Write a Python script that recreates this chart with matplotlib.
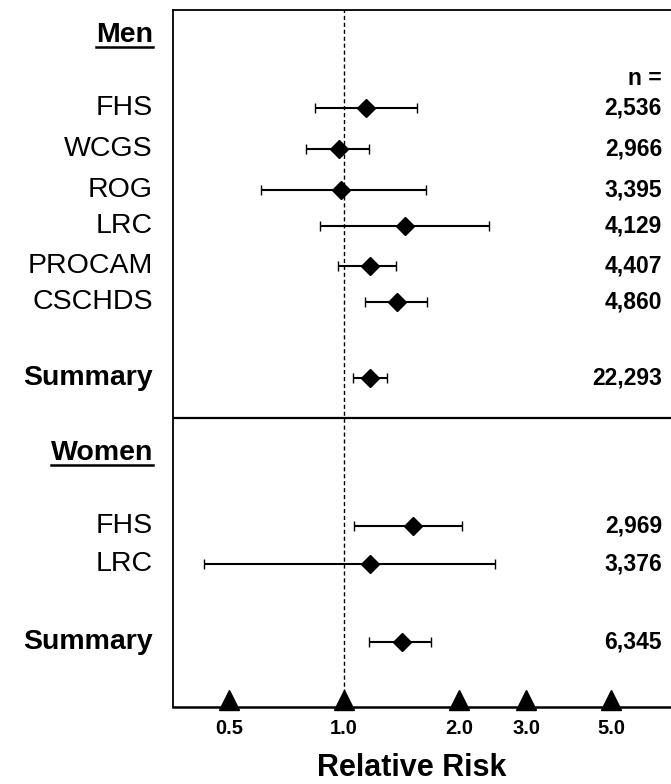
import matplotlib
matplotlib.use("Agg")
import matplotlib.pyplot as plt
from matplotlib.lines import Line2D
from matplotlib.transforms import blended_transform_factory

plt.rcParams['font.family'] = ['Liberation Sans', 'DejaVu Sans']

# study rows (men first, then women)
labels = ["FHS", "WCGS", "ROG", "LRC", "PROCAM", "CSCHDS", "Summary",
          "FHS", "LRC", "Summary"]
rr = [1.14, 0.97, 0.98, 1.44, 1.17, 1.38, 1.17, 1.52, 1.17, 1.42]
lo = [0.84, 0.795, 0.607, 0.866, 0.964, 1.135, 1.056, 1.062, 0.43, 1.16]
hi = [1.55, 1.16, 1.64, 2.39, 1.37, 1.65, 1.296, 2.04, 2.48, 1.69]
n_vals = ["2,536", "2,966", "3,395", "4,129", "4,407", "4,860", "22,293",
          "2,969", "3,376", "6,345"]
rows = [1, 2.06, 3.1, 4.04, 5.08, 6, 7.96, 11.77, 12.75, 14.76]
bold_rows = ["Summary"]

ticks = [0.5, 1.0, 2.0, 3.0, 5.0]
tick_labels = ["0.5", "1.0", "2.0", "3.0", "5.0"]

fig = plt.figure(figsize=(6.71, 7.84), dpi=100)
ax = fig.add_axes([173/671, 77/784, 1 - 173/671, (707-10)/784])
ax.set_xscale('log')
ax.set_xlim(0.357, 7.17)
ax.set_ylim(16.44, -1.53)

# reference line at RR = 1
ax.axvline(1.0, color='black', lw=1, ls=(0, (3, 2)), zorder=1)
# men / women separator
ax.axhline(9.0, color='black', lw=1.6)

for i in range(len(labels)):
    xerr = [[rr[i] - lo[i]], [hi[i] - rr[i]]]
    ax.errorbar(rr[i], rows[i], xerr=xerr, fmt='D', color='black',
                ms=9.5, lw=1.5, capsize=3.5, capthick=1.0, zorder=3)

# triangles marking the tick values
ax.plot(ticks, [16.26]*len(ticks), '^', color='black', ms=14, clip_on=False, zorder=4)

ax.set_xticks(ticks)
ax.set_xticklabels(tick_labels, fontsize=14.5, fontweight='bold')
ax.xaxis.set_minor_locator(matplotlib.ticker.NullLocator())
ax.tick_params(axis='x', length=0, pad=9)
ax.set_yticks([])
ax.spines['right'].set_visible(False)
ax.spines['left'].set_linewidth(1.3)
ax.spines['top'].set_linewidth(1.3)
ax.spines['bottom'].set_linewidth(1.8)

fig.text(412/671, 1 - 768/784, "Relative Risk", fontsize=22, fontweight='bold',
         ha='center', va='center')

tr = blended_transform_factory(fig.transFigure, ax.transData)
lx = 153/671
nx = 662/671
for i in range(len(labels)):
    if labels[i] in bold_rows:
        ax.text(lx, rows[i], labels[i], transform=tr, ha='right', va='center',
                fontsize=20.5, fontweight='bold')
    else:
        ax.text(lx, rows[i], labels[i], transform=tr, ha='right', va='center',
                fontsize=20.5)
    ax.text(nx, rows[i], n_vals[i], transform=tr, ha='right', va='center',
            fontsize=16.5, fontweight='bold')

ax.text(nx, 0.23, "n =", transform=tr, ha='right', va='center',
        fontsize=16.5, fontweight='bold')

headers = []
headers.append(ax.text(lx, -0.88, "Men", transform=tr, ha='right', va='center',
                       fontsize=20.5, fontweight='bold'))
headers.append(ax.text(lx, 9.89, "Women", transform=tr, ha='right', va='center',
                       fontsize=20.5, fontweight='bold'))

# underline the section headers
fig.canvas.draw()
r = fig.canvas.get_renderer()
for h in headers:
    bb = h.get_window_extent(r)
    y = bb.y0 + 1
    fig.add_artist(Line2D([bb.x0, bb.x1], [y, y], color='black', lw=1.8,
                          transform=None))

fig.savefig("out.png", dpi=100)
